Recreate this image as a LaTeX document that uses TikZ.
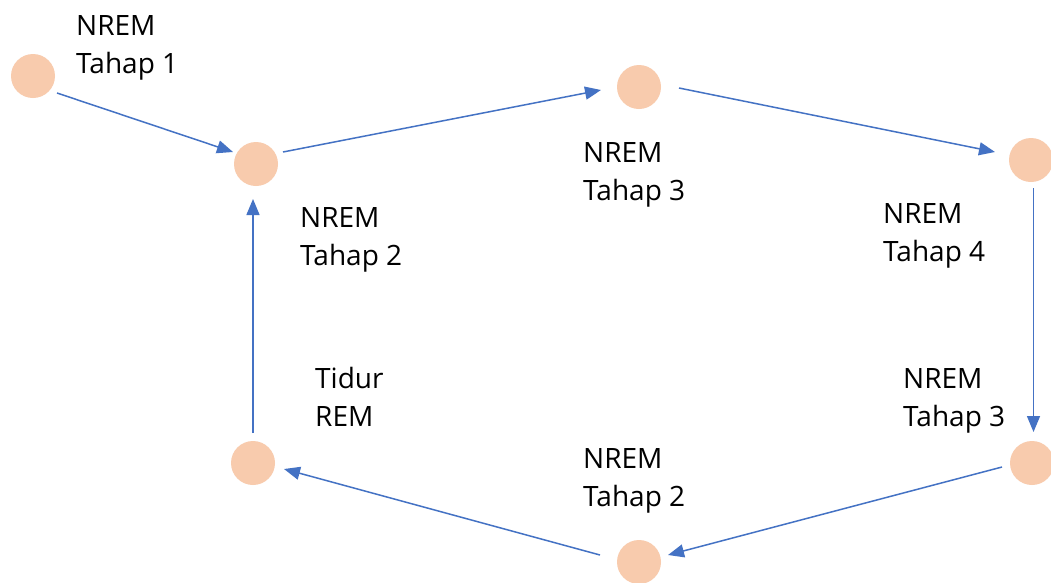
\documentclass[tikz,border=0pt]{standalone}
\usepackage{fontspec}
\setmainfont{Open Sans}
\usetikzlibrary{arrows.meta,calc}
\definecolor{dotfill}{HTML}{F8CBAD}
\definecolor{arrblue}{HTML}{4472C4}
\tikzset{
  stagedot/.style={circle,fill=dotfill,minimum size=44pt,inner sep=0pt,outer sep=0pt},
  flowarrow/.style={draw=arrblue,line width=1.5pt,-{Triangle[length=16pt,width=13pt]}},
  stagelabel/.style={anchor=base west,inner sep=0pt,font=\fontsize{28}{38.5}\selectfont}
}
\newcommand{\twolines}[2]{\begin{tabular}[t]{@{}l@{}}#1\\#2\end{tabular}}
\begin{document}
\begin{tikzpicture}[x=1pt,y=-1pt]
\useasboundingbox (0,0) rectangle (1051,582);
\fill[white] (0,0) rectangle (1051,582);
% stages
\node[stagedot] (A) at (33,76) {};
\node[stagedot] (B) at (256,164) {};
\node[stagedot] (C) at (639,87) {};
\node[stagedot] (D) at (1031,160) {};
\node[stagedot] (E) at (1032,463) {};
\node[stagedot] (F) at (639,562) {};
\node[stagedot] (G) at (253,463) {};
% labels
\node[stagelabel] (lA) at (76,35) {\twolines{NREM}{Tahap 1}};
\node[stagelabel] (lB) at (300,227) {\twolines{NREM}{Tahap 2}};
\node[stagelabel] (lC) at (583,162) {\twolines{NREM}{Tahap 3}};
\node[stagelabel] (lD) at (883,223) {\twolines{NREM}{Tahap 4}};
\node[stagelabel] (lE) at (903,388) {\twolines{NREM}{Tahap 3}};
\node[stagelabel] (lF) at (583,468) {\twolines{NREM}{Tahap 2}};
\node[stagelabel] (lG) at (315,388) {\twolines{Tidur}{REM}};
% connectors
\draw[flowarrow] ($(A)+(24,17)$) -- ($(B)+(-23,-12)$);
\draw[flowarrow] ($(B)+(27,-12)$) -- ($(C)+(-38,3)$);
\draw[flowarrow] ($(C)+(40,1)$) -- ($(D)+(-36,-8)$);
\draw[flowarrow] ($(D)+(2.5,28)$) -- ($(E)+(1.5,-31)$);
\draw[flowarrow] ($(E)+(-30,4)$) -- ($(F)+(29,-7)$);
\draw[flowarrow] ($(F)+(-39,-7)$) -- ($(G)+(31,6)$);
\draw[flowarrow] ($(G)+(0,-30)$) -- ($(B)+(-3,35)$);
\end{tikzpicture}
\end{document}
